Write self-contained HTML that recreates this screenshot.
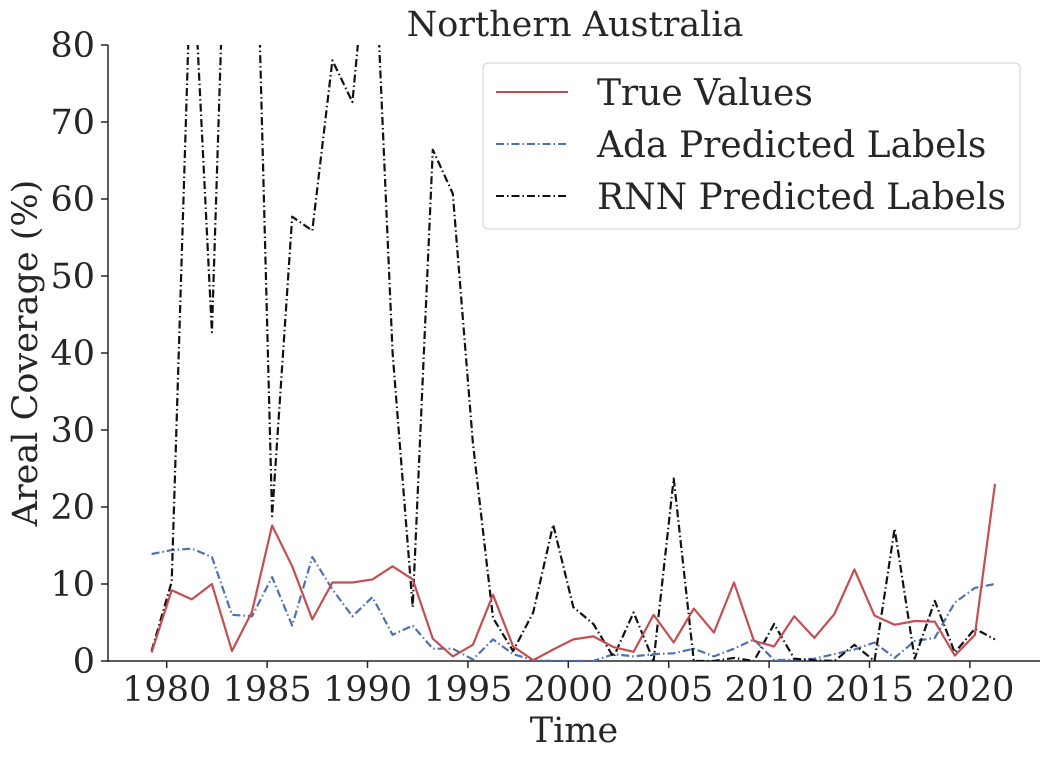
<!DOCTYPE html>
<html><head><meta charset="utf-8"><style>
html,body{margin:0;padding:0;background:#fff;}
svg text{font-family:"DejaVu Serif","Liberation Serif",serif;fill:#262626;}
</style></head><body>
<svg id="chart" width="1049" height="758" viewBox="0 0 1049 758" xmlns="http://www.w3.org/2000/svg">
<defs><clipPath id="plotclip"><rect x="108" y="45" width="932" height="616"/></clipPath></defs>
<text x="575" y="36" font-size="35" text-anchor="middle">Northern Australia</text>
<g id="xticks"></g>
<g id="yticks"></g>
<line x1="108" y1="45" x2="108" y2="662" stroke="#262626" stroke-width="1.5"/>
<line x1="107" y1="661" x2="1040" y2="661" stroke="#262626" stroke-width="1.5"/>
<g id="series" clip-path="url(#plotclip)"></g>
<text x="574" y="742" font-size="35" text-anchor="middle">Time</text>
<text transform="translate(37,353) rotate(-90)" font-size="35" text-anchor="middle">Areal Coverage (%)</text>
<g>
<rect x="483" y="63" width="537" height="166" rx="5" fill="#fff" stroke="#d0d0d0" stroke-width="1"/>
<g><line x1="496" y1="92" x2="568" y2="92" stroke="#c44e52" stroke-width="2"/><text x="597" y="105" font-size="36">True Values</text></g>
<g><line x1="496" y1="144" x2="568" y2="144" stroke="#4c72b0" stroke-width="2" stroke-dasharray="8,3,1.5,3"/><text x="597" y="157" font-size="36">Ada Predicted Labels</text></g>
<g><line x1="496" y1="196" x2="568" y2="196" stroke="#111" stroke-width="2" stroke-dasharray="8,3,1.5,3"/><text x="597" y="209" font-size="36">RNN Predicted Labels</text></g>
</g>
</svg>
<script>
const years = [];
for (let y = 1979; y <= 2021; y++) years.push(y);
const trueValues = [1.1,9.2,8.0,10.0,1.3,6.4,17.6,12.3,5.4,10.2,10.2,10.6,12.3,10.6,2.9,0.6,2.1,8.6,1.9,0.1,1.5,2.8,3.2,1.8,1.2,6.0,2.4,6.8,3.7,10.2,2.6,1.9,5.8,3.0,6.1,11.9,5.9,4.7,5.2,5.1,0.7,3.4,23.0];
const adaValues = [13.9,14.4,14.6,13.5,6.0,5.8,10.9,4.6,13.5,9.3,5.8,8.3,3.4,4.6,1.6,1.6,0.2,2.8,0.9,0.1,0,0,0,0.9,0.6,0.9,1.0,1.6,0.6,1.6,2.8,0.1,0.2,0.3,0.9,1.5,2.4,0.4,2.6,3.0,7.6,9.5,10.0];
const rnnValues = [1.3,10.3,95,42.7,125,120,18.8,57.7,55.9,78.0,72.6,100,40,7.0,66.4,60.7,28.3,5.6,1.3,6.3,17.7,7.0,4.8,0.5,6.3,0,23.7,0,0,0.4,0,4.8,0.3,0.1,0,2.1,0,17.2,0.3,7.8,1.1,4.2,2.8];
const xTickLabels = [1980,1985,1990,1995,2000,2005,2010,2015,2020];
const yTickLabels = [0,10,20,30,40,50,60,70,80];

const NS = "http://www.w3.org/2000/svg";
function xs(yr){ return 166.7 + (yr - 1980) * 20.08; }
function ys(v){ return 661 - v * 7.7; }

const xt = document.getElementById('xticks');
xTickLabels.forEach(t => {
  const l = document.createElementNS(NS,'line');
  
  
  l.setAttribute('x1',xs(t)); l.setAttribute('x2',xs(t));
  l.setAttribute('y1',661); l.setAttribute('y2',668);
  l.setAttribute('stroke','#262626'); l.setAttribute('stroke-width','1.5');
  xt.appendChild(l);
  const tx = document.createElementNS(NS,'text');
  
  
  tx.setAttribute('x',xs(t)); tx.setAttribute('y',701);
  tx.setAttribute('font-size','35'); tx.setAttribute('text-anchor','middle');
  tx.textContent = t;
  xt.appendChild(tx);
});
const yt = document.getElementById('yticks');
yTickLabels.forEach(t => {
  const l = document.createElementNS(NS,'line');
  
  
  l.setAttribute('x1',101); l.setAttribute('x2',108);
  l.setAttribute('y1',ys(t)); l.setAttribute('y2',ys(t));
  l.setAttribute('stroke','#262626'); l.setAttribute('stroke-width','1.5');
  yt.appendChild(l);
  const tx = document.createElementNS(NS,'text');
  
  
  tx.setAttribute('x',95); tx.setAttribute('y',ys(t)+12);
  tx.setAttribute('font-size','35'); tx.setAttribute('text-anchor','end');
  tx.textContent = t;
  yt.appendChild(tx);
});
const sg = document.getElementById('series');
function addLine(vals, color, dash, name){
  const p = document.createElementNS(NS,'polyline');
  
  
  p.setAttribute('points', vals.map((v,i)=>xs(years[i]+0.25).toFixed(1)+','+ys(v).toFixed(1)).join(' '));
  p.setAttribute('fill','none'); p.setAttribute('stroke',color);
  p.setAttribute('stroke-width','2.2'); p.setAttribute('stroke-linejoin','round');
  if (dash) p.setAttribute('stroke-dasharray',dash);
  sg.appendChild(p);
}
addLine(adaValues,'#4c72b0','8,3,1.5,3','ada-predicted-line');
addLine(rnnValues,'#111111','8,3,1.5,3','rnn-predicted-line');
addLine(trueValues,'#c44e52',null,'true-values-line');
</script>
</body></html>
